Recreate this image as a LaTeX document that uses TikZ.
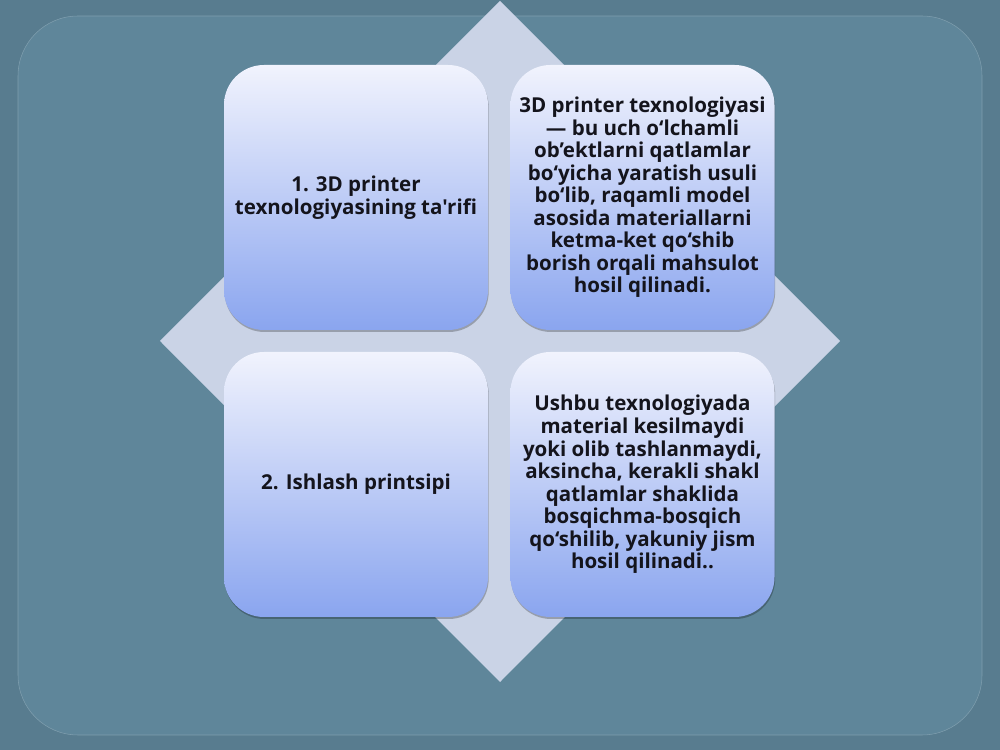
\documentclass[tikz,border=0pt]{standalone}
\usepackage{fontspec}
\newfontfamily\cardfont{Open Sans}
\usetikzlibrary{shadows}

\definecolor{slidebg}{RGB}{88,124,143}
\definecolor{panelbg}{RGB}{95,134,154}
\definecolor{diamondbg}{RGB}{202,211,230}
\definecolor{cardtop}{RGB}{241,243,253}
\definecolor{cardmid}{RGB}{210,220,247}
\definecolor{cardbot}{RGB}{138,165,239}
\definecolor{cardtext}{RGB}{20,20,28}

\tikzset{
  card/.style={rounded corners=30pt, minimum width=198pt, minimum height=198.75pt,
    inner sep=0pt, top color=cardtop, middle color=cardmid, bottom color=cardbot,
    draw=none, align=center, text=cardtext,
    font=\cardfont\fontsize{15.4}{16.9}\selectfont\bfseries,
    drop shadow={shadow xshift=0.5pt, shadow yshift=-1.5pt, opacity=0.25, fill=black}}
}

\begin{document}
\begin{tikzpicture}[x=0.75pt, y=0.75pt]
\useasboundingbox (0,0) rectangle (1000,750);

% background and panel
\fill[slidebg] (0,0) rectangle (1000,750);
\filldraw[fill=panelbg, draw=panelbg!80!white, rounded corners=45pt] (18,15) rectangle (982,734);

% diamond
\fill[diamondbg] (500,749) -- (840,409) -- (500,68) -- (160,409) -- cycle;

% cards
\node[card] (def) at (356,552.5) {1. 3D printer\\texnologiyasining ta'rifi};
\node[card] (defText) at (642.5,552.5) {3D printer texnologiyasi\\— bu uch o‘lchamli\\ob’ektlarni qatlamlar\\bo‘yicha yaratish usuli\\bo‘lib, raqamli model\\asosida materiallarni\\ketma-ket qo‘shib\\borish orqali mahsulot\\hosil qilinadi.};
\node[card] (work) at (356,265.5) {2. Ishlash printsipi};
\node[card] (workText) at (642.5,265.5) {Ushbu texnologiyada\\material kesilmaydi\\yoki olib tashlanmaydi,\\aksincha, kerakli shakl\\qatlamlar shaklida\\bosqichma-bosqich\\qo‘shilib, yakuniy jism\\hosil qilinadi..};

\end{tikzpicture}
\end{document}
